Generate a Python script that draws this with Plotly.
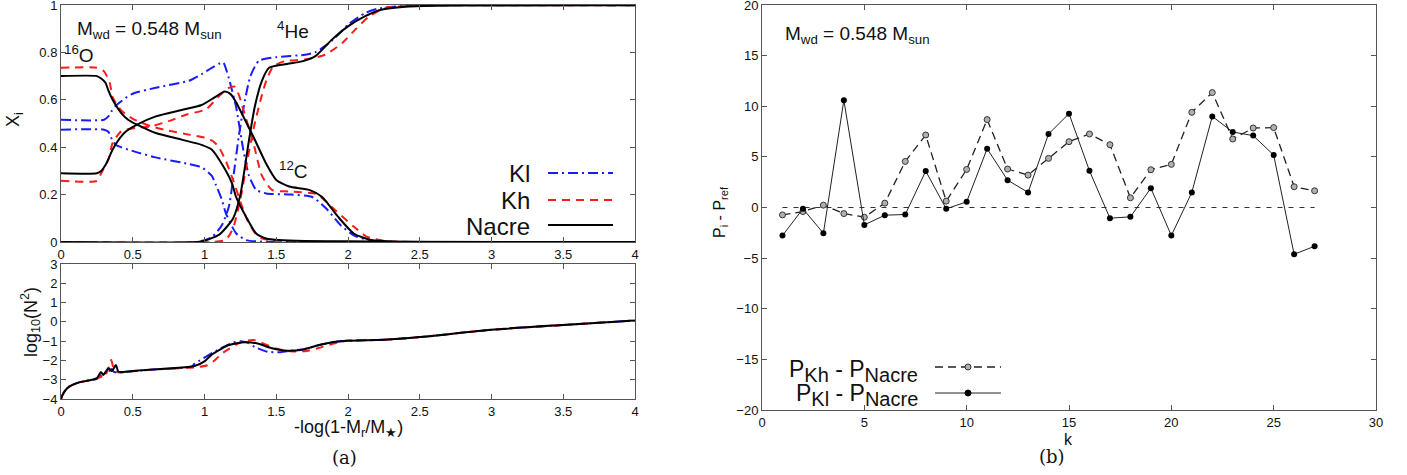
import plotly.graph_objects as go

# ---------------- data: composition profiles (top-left) ----------------
x_nacre_O = [0, 0.25, 0.28, 0.31, 0.33, 0.36, 0.42, 0.47, 0.53, 0.66, 0.84, 0.98, 1.05, 1.12, 1.19, 1.22, 1.29, 1.36, 1.43, 1.52, 1.7, 2.0, 2.3, 4.0]
y_nacre_O = [0.70, 0.70, 0.69, 0.672, 0.64, 0.60, 0.544, 0.515, 0.495, 0.46, 0.432, 0.41, 0.39, 0.33, 0.25, 0.19, 0.106, 0.036, 0.015, 0.008, 0.004, 0.003, 0.001, 0.0]
x_nacre_C = [0, 0.25, 0.28, 0.31, 0.33, 0.36, 0.40, 0.45, 0.53, 0.66, 0.84, 0.98, 1.07, 1.14, 1.18, 1.22, 1.27, 1.34, 1.43, 1.50, 1.59, 1.73, 1.82, 1.93, 2.04, 2.16, 2.3, 4.0]
y_nacre_C = [0.29, 0.29, 0.30, 0.325, 0.35, 0.39, 0.43, 0.465, 0.495, 0.53, 0.557, 0.578, 0.61, 0.635, 0.625, 0.59, 0.53, 0.445, 0.33, 0.262, 0.234, 0.22, 0.19, 0.107, 0.036, 0.008, 0.002, 0.0]
x_nacre_He = [0, 0.95, 1.0, 1.1, 1.15, 1.2, 1.25, 1.31, 1.35, 1.4, 1.45, 1.56, 1.68, 1.77, 1.89, 2.0, 2.12, 2.23, 2.4, 2.6, 3.0, 4.0]
y_nacre_He = [0, 0, 0.005, 0.03, 0.06, 0.10, 0.2, 0.43, 0.57, 0.68, 0.735, 0.75, 0.762, 0.783, 0.855, 0.91, 0.953, 0.98, 0.993, 0.997, 0.998, 0.999]

x_kl_O = [0, 0.30, 0.33, 0.35, 0.38, 0.49, 0.66, 0.89, 0.98, 1.05, 1.08, 1.12, 1.15, 1.22, 1.29, 1.4, 4.0]
y_kl_O = [0.474, 0.474, 0.465, 0.44, 0.41, 0.386, 0.357, 0.329, 0.315, 0.28, 0.24, 0.18, 0.12, 0.037, 0.008, 0.002, 0.0]
x_kl_C = [0, 0.30, 0.33, 0.35, 0.38, 0.49, 0.66, 0.89, 0.98, 1.05, 1.10, 1.13, 1.17, 1.22, 1.27, 1.31, 1.36, 1.43, 1.6, 1.75, 1.85, 1.95, 2.05, 2.2, 4.0]
y_kl_C = [0.516, 0.516, 0.53, 0.55, 0.574, 0.623, 0.651, 0.68, 0.708, 0.735, 0.752, 0.758, 0.69, 0.57, 0.39, 0.28, 0.22, 0.205, 0.20, 0.19, 0.14, 0.07, 0.025, 0.004, 0.0]
x_kl_He = [0, 0.95, 1.05, 1.12, 1.17, 1.20, 1.24, 1.27, 1.32, 1.38, 1.5, 1.7, 1.77, 1.89, 2.0, 2.12, 2.21, 2.4, 4.0]
y_kl_He = [0, 0, 0.02, 0.07, 0.15, 0.27, 0.45, 0.56, 0.70, 0.765, 0.78, 0.79, 0.80, 0.85, 0.917, 0.966, 0.985, 0.997, 0.999]

x_kh_O = [0, 0.25, 0.30, 0.34, 0.36, 0.42, 0.50, 0.63, 0.75, 0.9, 1.0, 1.06, 1.1, 1.15, 1.2, 1.25, 1.3, 1.35, 1.4, 1.5, 4.0]
y_kh_O = [0.735, 0.735, 0.72, 0.671, 0.61, 0.555, 0.52, 0.488, 0.47, 0.452, 0.44, 0.425, 0.40, 0.34, 0.26, 0.17, 0.09, 0.04, 0.015, 0.005, 0.0]
x_kh_C = [0, 0.25, 0.28, 0.33, 0.36, 0.42, 0.53, 0.63, 0.75, 0.87, 1.01, 1.1, 1.17, 1.21, 1.24, 1.27, 1.34, 1.40, 1.47, 1.59, 1.78, 1.91, 2.04, 2.13, 2.25, 4.0]
y_kh_C = [0.258, 0.258, 0.29, 0.347, 0.418, 0.467, 0.482, 0.488, 0.51, 0.537, 0.56, 0.615, 0.65, 0.655, 0.62, 0.56, 0.42, 0.28, 0.22, 0.213, 0.202, 0.135, 0.065, 0.023, 0.005, 0.0]
x_kh_He = [0, 1.05, 1.15, 1.2, 1.25, 1.3, 1.35, 1.4, 1.433, 1.48, 1.56, 1.70, 1.84, 1.96, 2.05, 2.15, 2.26, 2.5, 4.0]
y_kh_He = [0, 0, 0.01, 0.06, 0.18, 0.35, 0.50, 0.62, 0.685, 0.742, 0.763, 0.77, 0.79, 0.84, 0.896, 0.953, 0.988, 0.997, 0.999]

# ---------------- data: log10(N^2) (bottom-left) ----------------
x_n2_nacre = [0, 0.01, 0.03, 0.06, 0.12, 0.2, 0.25, 0.278, 0.295, 0.33, 0.353, 0.383, 0.40, 0.54, 0.77, 0.93, 1.0, 1.05, 1.17, 1.28, 1.37, 1.47, 1.58, 1.69, 1.8, 1.9, 2.0, 2.25, 2.5, 3.0, 3.5, 4.0]
y_n2_nacre = [-4.0, -3.8, -3.55, -3.35, -3.15, -3.03, -2.92, -2.6, -2.75, -2.41, -2.55, -2.24, -2.58, -2.52, -2.41, -2.29, -2.05, -1.7, -1.2, -1.06, -1.12, -1.37, -1.5, -1.43, -1.2, -1.05, -0.98, -0.93, -0.79, -0.41, -0.16, 0.07]
x_n2_kl = [0, 0.01, 0.03, 0.06, 0.12, 0.2, 0.25, 0.28, 0.30, 0.32, 0.35, 0.37, 0.40, 0.54, 0.77, 0.91, 0.93, 1.09, 1.2, 1.25, 1.3, 1.35, 1.44, 1.53, 1.62, 1.7, 1.8, 1.9, 2.0, 2.25, 2.5, 3.0, 3.5, 4.0]
y_n2_kl = [-4.0, -3.8, -3.55, -3.35, -3.15, -3.03, -2.95, -2.75, -2.62, -2.7, -2.45, -2.6, -2.62, -2.53, -2.42, -2.32, -2.18, -1.46, -1.08, -1.0, -1.08, -1.3, -1.55, -1.57, -1.48, -1.4, -1.2, -1.05, -0.98, -0.93, -0.79, -0.41, -0.16, 0.07]
x_n2_kh = [0, 0.01, 0.03, 0.06, 0.12, 0.2, 0.25, 0.28, 0.30, 0.33, 0.35, 0.37, 0.40, 0.54, 0.77, 0.95, 1.02, 1.07, 1.12, 1.26, 1.35, 1.49, 1.6, 1.7, 1.8, 1.9, 2.0, 2.25, 2.5, 3.0, 3.5, 4.0]
y_n2_kh = [-4.0, -3.8, -3.55, -3.35, -3.15, -3.03, -2.95, -2.85, -2.9, -2.4, -1.98, -2.5, -2.62, -2.53, -2.42, -2.35, -2.25, -2.0, -1.65, -1.03, -0.95, -1.37, -1.52, -1.52, -1.35, -1.12, -0.97, -0.93, -0.79, -0.41, -0.16, 0.07]

# ---------------- data: period differences (right) ----------------
k_modes = list(range(1, 28))
dP_kh = [-0.73, -0.4, 0.23, -0.6, -0.96, 0.43, 4.55, 7.16, 0.63, 3.76, 8.68, 3.8, 3.2, 4.85, 6.5,
         7.26, 6.2, 0.96, 3.73, 4.26, 9.4, 11.35, 6.77, 7.85, 7.89, 2.05, 1.65]
dP_kl = [-2.77, -0.13, -2.54, 10.6, -1.72, -0.76, -0.69, 3.6, -0.13, 0.56, 5.8, 2.7, 1.49, 7.26, 9.27,
         3.63, -1.06, -0.92, 1.91, -2.77, 1.49, 9.0, 7.46, 7.1, 5.18, -4.62, -3.83]
zero_k = [1, 27]
zero_val = [0, 0]

top_ticks = [0, 0.2, 0.4, 0.6, 0.8, 1]
top_ticklabels = ["0", "0.2", "0.4", "0.6", "0.8", "1"]
x_ticks = [0, 0.5, 1, 1.5, 2, 2.5, 3, 3.5, 4]
x_ticklabels = ["0", "0.5", "1", "1.5", "2", "2.5", "3", "3.5", "4"]

# ---------------- styling ----------------
W, H = 1407, 475
BLUE, RED, BLACK = "#1a1aff", "#ff1a1a", "#000000"
DASH_KL = "10px,4px,2px,4px"
DASH_KH = "8px,6px"
FONT = "Liberation Sans, Arial, sans-serif"


def px(p):
    return p / W


def py(p):
    return 1 - p / H


fig = go.Figure()

def add_line(x, y, color, dash, xa, ya, width=2):
    fig.add_trace(go.Scatter(x=x, y=y, mode="lines", xaxis=xa, yaxis=ya, showlegend=False,
                             line=dict(color=color, dash=dash, width=width, shape="spline", smoothing=0.6)))

# top panel
for xx, yy in [(x_kl_O, y_kl_O), (x_kl_C, y_kl_C), (x_kl_He, y_kl_He)]:
    add_line(xx, yy, BLUE, DASH_KL, "x", "y")
for xx, yy in [(x_kh_O, y_kh_O), (x_kh_C, y_kh_C), (x_kh_He, y_kh_He)]:
    add_line(xx, yy, RED, DASH_KH, "x", "y")
for xx, yy in [(x_nacre_O, y_nacre_O), (x_nacre_C, y_nacre_C), (x_nacre_He, y_nacre_He)]:
    add_line(xx, yy, BLACK, "solid", "x", "y")

# bottom panel
add_line(x_n2_kl, y_n2_kl, BLUE, DASH_KL, "x2", "y2")
add_line(x_n2_kh, y_n2_kh, RED, DASH_KH, "x2", "y2")
add_line(x_n2_nacre, y_n2_nacre, BLACK, "solid", "x2", "y2")

# right panel
fig.add_trace(go.Scatter(x=zero_k, y=zero_val, mode="lines", xaxis="x3", yaxis="y3", showlegend=False,
                         line=dict(color="#333", width=1, dash="5px,6px")))
fig.add_trace(go.Scatter(x=k_modes, y=dP_kh, mode="lines+markers", xaxis="x3", yaxis="y3", showlegend=False,
                         line=dict(color="#222", width=1.3, dash="8px,5px"),
                         marker=dict(symbol="circle", size=6, color="#b0b0b0", line=dict(color="#333", width=1))))
fig.add_trace(go.Scatter(x=k_modes, y=dP_kl, mode="lines+markers", xaxis="x3", yaxis="y3", showlegend=False,
                         line=dict(color="#222", width=1),
                         marker=dict(symbol="circle", size=6, color="#000")))

axis_common = dict(showline=True, linecolor="#555", linewidth=1, mirror="ticks", ticks="inside",
                   ticklen=5, tickwidth=1, tickcolor="#555", showgrid=False, zeroline=False,
                   automargin=False, ticklabeloverflow="allow",
                   tickfont=dict(family=FONT, size=13, color="#111"))

fig.update_layout(
    width=W, height=H, autosize=False,
    margin=dict(l=0, r=0, t=0, b=0),
    paper_bgcolor="white", plot_bgcolor="white",
    xaxis=dict(domain=[px(61), px(635)], range=[0, 4], tickvals=x_ticks, ticktext=x_ticklabels,
               anchor="y", **axis_common),
    yaxis=dict(domain=[py(242), py(5)], range=[0, 1], tickvals=top_ticks, ticktext=top_ticklabels,
               anchor="x", **axis_common),
    xaxis2=dict(domain=[px(61), px(635)], range=[0, 4], tickvals=x_ticks, ticktext=x_ticklabels,
                anchor="y2", **axis_common),
    yaxis2=dict(domain=[py(399), py(264)], range=[-4, 3], dtick=1, anchor="x2", **axis_common),
    xaxis3=dict(domain=[px(762), px(1376)], range=[0, 30], dtick=5, anchor="y3", **axis_common),
    yaxis3=dict(domain=[py(410), py(5)], range=[-20, 20], dtick=5, anchor="x3", **axis_common),
)

ann = []

def text(xp, yp, s, size, xanchor="left", yanchor="middle", angle=0, family=FONT):
    ann.append(dict(x=px(xp), y=py(yp), xref="paper", yref="paper", text=s, showarrow=False,
                    xanchor=xanchor, yanchor=yanchor, textangle=angle,
                    font=dict(family=family, size=size, color="#111")))


def sub(s, size):
    return "<sub><span style='font-size:%dpx'>%s</span></sub>" % (size, s)


text(75, 30, "M<sub>wd</sub> = 0.548 M<sub>sun</sub>", 19)
text(62, 54, "<sup>16</sup>O", 19)
text(275, 30, "<sup>4</sup>He", 19)
text(277, 170, "<sup>12</sup>C", 19)
text(532, 173, "Kl", 24, xanchor="right")
text(532, 200, "Kh", 24, xanchor="right")
text(532, 226, "Nacre", 24, xanchor="right")
text(14, 120, "X<sub>i</sub>", 18, xanchor="center", angle=-90)
text(30, 322, "log<sub>10</sub>(N<sup>2</sup>)", 18, xanchor="center", angle=-90)
text(348, 428, "-log(1-M<sub>r</sub>/M<sub>★</sub>)", 18, xanchor="center")
text(344, 457, "(a)", 18, xanchor="center", family="DejaVu Serif, serif")

text(783, 35, "M<sub>wd</sub> = 0.548 M<sub>sun</sub>", 19)
text(720, 212, "P<sub>i</sub> - P<sub>ref</sub>", 16, xanchor="center", angle=-90)
text(1068, 439, "k", 16, xanchor="center")
text(1052, 456, "(b)", 18, xanchor="center", family="DejaVu Serif, serif")
text(920, 371, "P" + sub("Kh", 20) + " - P" + sub("Nacre", 20), 23, xanchor="right")
text(920, 395, "P" + sub("Kl", 20) + " - P" + sub("Nacre", 20), 23, xanchor="right")

fig.update_layout(annotations=ann)

shapes = [
    dict(type="line", xref="paper", yref="paper", x0=px(548), x1=px(613), y0=py(173), y1=py(173),
         line=dict(color=BLUE, width=2, dash=DASH_KL)),
    dict(type="line", xref="paper", yref="paper", x0=px(548), x1=px(613), y0=py(200), y1=py(200),
         line=dict(color=RED, width=2, dash=DASH_KH)),
    dict(type="line", xref="paper", yref="paper", x0=px(548), x1=px(613), y0=py(225), y1=py(225),
         line=dict(color=BLACK, width=2)),
    dict(type="line", xref="paper", yref="paper", x0=px(935), x1=px(1001), y0=py(367), y1=py(367),
         line=dict(color="#222", width=1.3, dash="8px,5px")),
    dict(type="circle", xref="paper", yref="paper", x0=px(965), x1=px(971), y0=py(364), y1=py(370),
         fillcolor="#b0b0b0", line=dict(color="#333", width=1)),
    dict(type="line", xref="paper", yref="paper", x0=px(935), x1=px(1001), y0=py(393), y1=py(393),
         line=dict(color="#222", width=1)),
    dict(type="circle", xref="paper", yref="paper", x0=px(965), x1=px(971), y0=py(390), y1=py(396),
         fillcolor="#000", line=dict(color="#000", width=1)),
]
fig.update_layout(shapes=shapes)

fig.write_html("out.html", config={"displayModeBar": False},
               post_script="document.body.style.margin='0px';document.body.style.overflow='hidden';")
